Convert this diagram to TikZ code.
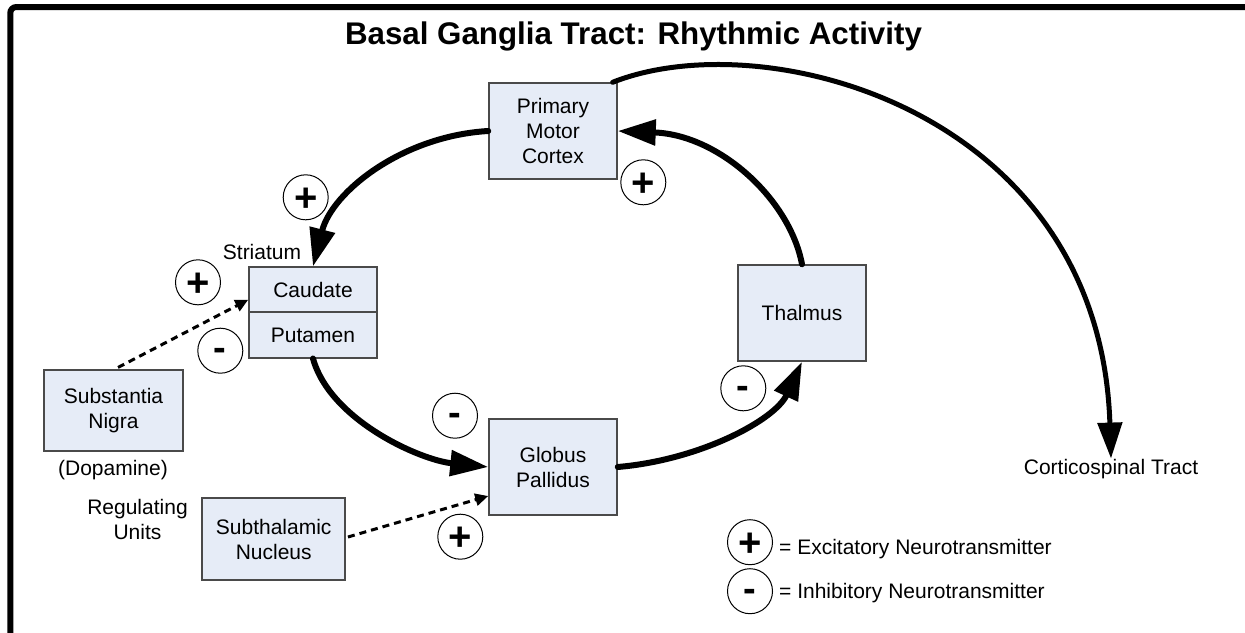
\documentclass[tikz,border=0pt]{standalone}
\usepackage{fontspec}
\setmainfont{Liberation Sans}
\usetikzlibrary{arrows.meta}
\definecolor{boxfill}{HTML}{E6ECF7}
\definecolor{boxline}{HTML}{4A4A4A}
\begin{document}
\begin{tikzpicture}[x=1pt,y=-1pt,
  box/.style={draw=boxline, line width=1.5pt, fill=boxfill, inner sep=0pt, align=center, font=\fontsize{21}{25}\selectfont},
  lbl/.style={inner sep=0pt, align=center, font=\fontsize{21}{25}\selectfont},
  sgn/.style={draw, circle, line width=1pt, minimum size=45pt, inner sep=0pt},
  pluscirc/.style={sgn, font=\fontsize{40}{40}\selectfont\bfseries, text height=28pt, text depth=0pt},
  minuscirc/.style={sgn, font=\fontsize{38}{38}\selectfont\bfseries, text height=20.5pt, text depth=0pt},
  flow/.style={line width=6pt, line cap=round, -{Triangle[length=38pt,width=25pt]}},
  cortflow/.style={line width=5pt, line cap=round, -{Triangle[length=36pt,width=24pt]}},
  reg/.style={line width=3pt, dash pattern=on 7pt off 5pt, -{Triangle[length=13pt,width=12pt]}},
]
\useasboundingbox (0,0) rectangle (1245,632);
\clip (0,0) rectangle (1245,632);
% frame
\draw[line width=6pt, rounded corners=6pt] (10.3,700) -- (10.3,7) -- (1300,7);

% title
\node[anchor=base, inner sep=0pt, font=\fontsize{31.3}{34}\selectfont\bfseries] (title) at (633.5,44.5) {Basal Ganglia Tract: Rhythmic Activity};

% boxes
\node[box, minimum width=128pt, minimum height=96pt] (mc) at (553,131) {Primary\\Motor\\Cortex};
\node[box, minimum width=128pt, minimum height=45pt] (caud) at (313,289.7) {Caudate};
\node[box, minimum width=128pt, minimum height=45.5pt] (put) at (313,335) {Putamen};
\node[box, minimum width=139pt, minimum height=81pt] (sn) at (113.5,410.7) {Substantia\\Nigra};
\node[box, minimum width=143pt, minimum height=82pt] (stn) at (273.7,539) {Subthalamic\\Nucleus};
\node[box, minimum width=128pt, minimum height=96pt] (gp) at (553,467) {Globus\\Pallidus};
\node[box, minimum width=128pt, minimum height=96pt] (thal) at (802,313) {Thalmus};

% labels
\node[lbl] (striatum) at (262,252) {Striatum};
\node[lbl] (dopa) at (113,470) {(Dopamine)};
\node[lbl] (regu) at (137.5,519.5) {Regulating\\Units};
\node[lbl, anchor=base] (cst) at (1111,474) {Corticospinal Tract};

% main loop
\draw[flow] (mc.west) .. controls (402,136) and (332,192) .. (caud.north);
\draw[flow] (put.south) .. controls (330,420) and (420,460) .. (gp.west);
\draw[flow] (gp.east) .. controls (700,460) and (775,420) .. (thal.south);
\draw[flow] (thal.north) .. controls (790,200) and (720,135) .. (mc.east);
\draw[cortflow] ([xshift=-5pt]mc.north east) .. controls (765,22) and (1100,110) .. (cst.north);

% regulating
\draw[reg] ([xshift=4.5pt,yshift=2pt]sn.north) -- ([yshift=-10pt]caud.west);
\draw[reg] ([xshift=2pt,yshift=2pt]stn.east) -- ([yshift=-29pt]gp.west);

% signs
\node[pluscirc] (s1) at (305.7,197.3) {+};
\node[pluscirc] (s2) at (643.3,182.3) {+};
\node[pluscirc] (s3) at (198,282.3) {+};
\node[minuscirc] (s4) at (220.3,350.7) {-};
\node[minuscirc] (s5) at (455,415.7) {-};
\node[pluscirc] (s6) at (460.3,536.7) {+};
\node[minuscirc] (s7) at (743.3,388.3) {-};

% legend
\node[pluscirc] (lp) at (750,542.2) {+};
\node[minuscirc] (lm) at (750,591.2) {-};
\node[lbl, anchor=base west] (lpt) at (779,554) {= Excitatory Neurotransmitter};
\node[lbl, anchor=base west] (lmt) at (779,598.3) {= Inhibitory Neurotransmitter};
\end{tikzpicture}
\end{document}
